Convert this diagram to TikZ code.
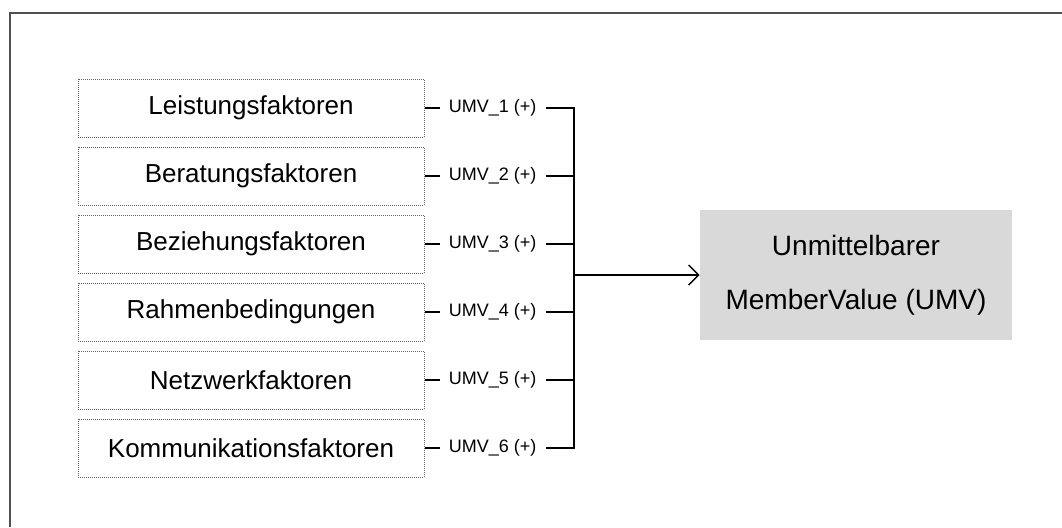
\documentclass[tikz,border=0pt]{standalone}
\usepackage{fontspec}
\setmainfont{Liberation Sans}
\usetikzlibrary{arrows.meta, positioning}
\definecolor{framegray}{HTML}{505050}
\definecolor{resultgray}{HTML}{D9D9D9}
\tikzstyle{factor} = [rectangle, minimum width=173pt, minimum height=29pt, text centered, draw=black!60, line width=0.5pt, dash pattern=on 0.5pt off 0.5pt, font=\fontsize{13pt}{15pt}\selectfont]
\tikzstyle{umvlabel} = [inner xsep=4.5pt, inner ysep=2pt, font=\fontsize{9pt}{11pt}\selectfont]
\tikzstyle{result} = [rectangle, minimum width=156pt, minimum height=65pt, fill=resultgray, align=center, font=\fontsize{14pt}{27pt}\selectfont]
\tikzstyle{arrow} = [line width=0.7pt,-{Straight Barb[length=5pt,width=10pt]}]
\tikzstyle{line} = [line width=0.7pt,-]

\begin{document}
\begin{tikzpicture}[node distance=34pt]
	\useasboundingbox (0,0) rectangle (531pt,-263.5pt);
	\draw [framegray, line width=1pt] (5pt,-263.5pt) -- (5pt,-6.25pt) -- (531pt,-6.25pt);

	\node (facLeistung) [factor] at (125.5pt,-54pt) {Leistungsfaktoren};
	\node (facBeratung) [factor, below of=facLeistung] {Beratungsfaktoren};
	\node (facBeziehung) [factor, below of=facBeratung] {Beziehungsfaktoren};
	\node (facRahmen) [factor, below of=facBeziehung] {Rahmenbedingungen};
	\node (facNetzwerk) [factor, below of=facRahmen] {Netzwerkfaktoren};
	\node (facKommunikation) [factor, below of=facNetzwerk] {Kommunikationsfaktoren};

	\node (umvOne) [umvlabel, right=7.5pt of facLeistung] {UMV\_1 (+)};
	\node (umvTwo) [umvlabel, right=7.5pt of facBeratung] {UMV\_2 (+)};
	\node (umvThree) [umvlabel, right=7.5pt of facBeziehung] {UMV\_3 (+)};
	\node (umvFour) [umvlabel, right=7.5pt of facRahmen] {UMV\_4 (+)};
	\node (umvFive) [umvlabel, right=7.5pt of facNetzwerk] {UMV\_5 (+)};
	\node (umvSix) [umvlabel, right=7.5pt of facKommunikation] {UMV\_6 (+)};

	\node (umvResult) [result] at (428pt,-137.5pt) {Unmittelbarer\\MemberValue (UMV)};

	\node (busTop) [coordinate, right=14pt of umvOne] {};
	\node (busBottom) [coordinate, right=14pt of umvSix] {};
	\coordinate (busMid) at (busTop |- umvResult);

	\draw [line] (facLeistung) -- (umvOne);
	\draw [line] (facBeratung) -- (umvTwo);
	\draw [line] (facBeziehung) -- (umvThree);
	\draw [line] (facRahmen) -- (umvFour);
	\draw [line] (facNetzwerk) -- (umvFive);
	\draw [line] (facKommunikation) -- (umvSix);

	\draw [line] (umvOne) -- (busTop) -- (busBottom) -- (umvSix);
	\draw [line] (umvTwo) -- (umvTwo -| busTop);
	\draw [line] (umvThree) -- (umvThree -| busTop);
	\draw [line] (umvFour) -- (umvFour -| busTop);
	\draw [line] (umvFive) -- (umvFive -| busTop);

	\draw [arrow] (busMid) -- (umvResult);
\end{tikzpicture}
\end{document}
